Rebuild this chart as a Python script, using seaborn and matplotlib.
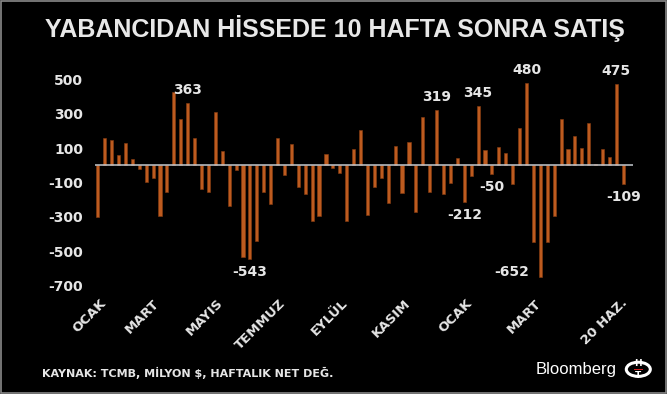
import matplotlib
matplotlib.use("Agg")
import matplotlib.pyplot as plt
import seaborn as sns
import pandas as pd
from matplotlib.patches import Rectangle, Circle

# ---- data ----
weekly_flow = [
    -300, 156, 147, 59, 131, 36, -24, -100, -76, -296, -158,
    428, 267, 363, 156, -140, -154, 311, 84, -235, -30,
    -532, -543, -441, -158, -228, 156, -57, 121, -129, -169,
    -325, -296, 63, -18, -47, -323, 94, 205, -290, -129,
    -76, -218, 112, -164, 137, -274, 282, -158, 319, -169,
    -102, 40, -212, -63, 345, 88, -50, 104, 73, -109,
    214, 480, -445, -652, -449, -293, 267, 92, 171, 98,
    243, 9, 92, 50, 475, -109,
]
week_index = list(range(len(weekly_flow)))
tick_positions = [0.2, 7.9, 17.1, 26.2, 35.2, 44.3, 53.2, 63.2, 75.6]
tick_labels = ["OCAK", "MART", "MAYIS", "TEMMUZ", "EYLÜL", "KASIM", "OCAK", "MART", "20 HAZ."]
y_ticks = [500, 300, 100, -100, -300, -500, -700]
labeled_weeks = [13, 22, 49, 53, 55, 57, 62, 64, 75, 76]

title = "YABANCIDAN HİSSEDE 10 HAFTA SONRA SATIŞ"
source = "KAYNAK: TCMB, MİLYON $, HAFTALIK NET DEĞ."

df = pd.DataFrame({"week": week_index, "flow": weekly_flow})

sns.set_theme(style="dark")
plt.rcParams["font.family"] = ["DejaVu Sans"]

fig = plt.figure(figsize=(6.67, 3.94), dpi=100, facecolor="black")
ax = fig.add_axes([95 / 667, 1 - 285.5 / 394, 538 / 667, 206.2 / 394])
ax.set_facecolor("black")

bar_color = "#bd5b1f"
sns.barplot(data=df, x="week", y="flow", color=bar_color, width=0.45,
            saturation=1, ax=ax, edgecolor="#8a3e12", linewidth=0.4)

ax.axhline(0, color="#c4c9cf", linewidth=1.1, zorder=3)

ax.set_xlim(-0.4, 77.4)
ax.set_ylim(-700, 500)
ax.set_yticks(y_ticks)
ax.set_yticklabels([f"{v}" if v > 0 else f"-{abs(v)}" for v in y_ticks],
                   fontsize=10, fontweight="bold", color="#e6e6e6")
ax.set_xticks(tick_positions)
ax.set_xticklabels(tick_labels, rotation=45, ha="right", va="top",
                   rotation_mode="anchor",
                   fontsize=9.5, fontweight="bold", color="#e6e6e6")
ax.tick_params(axis="x", length=0, pad=8)
ax.tick_params(axis="y", length=0, pad=8.6)
ax.set_xlabel("")
ax.set_ylabel("")
ax.grid(False)
for s in ax.spines.values():
    s.set_visible(False)

for i in labeled_weeks:
    v = weekly_flow[i]
    txt = f"{v}"
    if i == 64:
        ax.annotate(txt, (i, v), xytext=(-8, 4), textcoords="offset points",
                    ha="right", va="center", fontsize=10, fontweight="bold",
                    color="#e6e6e6")
    else:
        off = 9.4 if v > 0 else -9.4
        ax.annotate(txt, (i, v), xytext=(0, off), textcoords="offset points",
                    ha="center", va="center", fontsize=10, fontweight="bold",
                    color="#e6e6e6")

fig.text(335 / 667, 1 - 29 / 394, title, ha="center", va="center",
         fontsize=18, fontweight="bold", color="#e8e8e8",
         family=["Liberation Sans", "DejaVu Sans"])
fig.text(41.5 / 667, 1 - 372.7 / 394, source, ha="left", va="center",
         fontsize=8, fontweight="bold", color="#e6e6e6")
fig.text(576 / 667, 1 - 369.5 / 394, "Bloomberg", ha="center", va="center",
         fontsize=12, color="white", family=["Liberation Sans", "DejaVu Sans"])

# logo
logo = Circle((638.3 / 667, 1 - 369.3 / 394), radius=12 / 667,
              transform=fig.transFigure, facecolor="black", edgecolor="white",
              linewidth=2.2)
fig.patches.append(logo)
fig.text(638.3 / 667, 1 - 364 / 394, "H", ha="center", va="center",
         fontsize=6.5, fontweight="bold", color="white")
fig.text(638.3 / 667, 1 - 375 / 394, "T", ha="center", va="center",
         fontsize=6.5, fontweight="bold", color="white")
fig.patches.append(Rectangle((633.5 / 667, 1 - 370 / 394), 9.5 / 667, 1.5 / 394,
                             transform=fig.transFigure, facecolor="#d02020",
                             edgecolor="none"))

# frame
fig.patches.append(Rectangle((0.001, 0.002), 0.998, 0.996, transform=fig.transFigure,
                             facecolor="none", edgecolor="#8a8a8a", linewidth=1.2))

fig.savefig("out.png", dpi=100, facecolor="black")
